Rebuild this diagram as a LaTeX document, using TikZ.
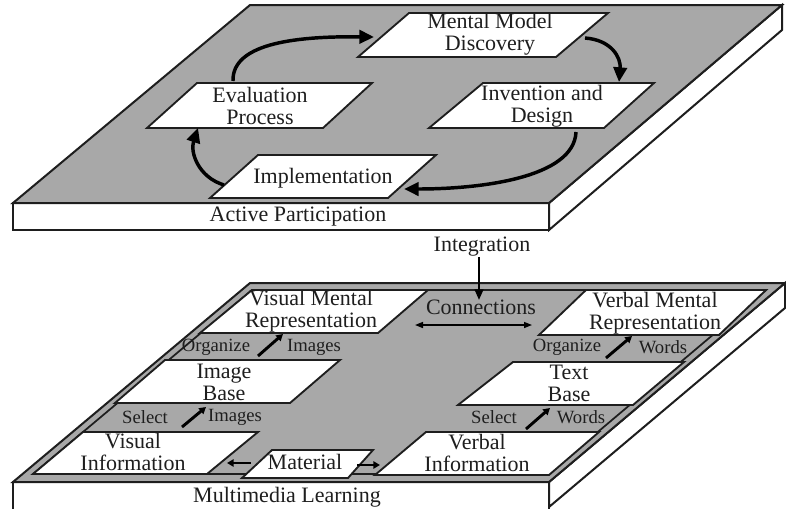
\documentclass[tikz,border=0pt]{standalone}
\usepackage{fontspec}
\setmainfont{Liberation Serif}
\usetikzlibrary{arrows.meta}
\definecolor{slab}{RGB}{168,168,168}
\definecolor{ink}{RGB}{30,30,30}
\newcommand\pgram[6]{% BLx, BRx, TLx, TRx, bottom y, top y
  \draw[pbox] (#1,#5) -- (#2,#5) -- (#4,#6) -- (#3,#6) -- cycle;}
\begin{document}
\begin{tikzpicture}[x=0.75pt,y=-0.75pt,line join=miter,
  face/.style={draw=ink,line width=1.5pt,fill=white},
  topface/.style={draw=ink,line width=1.5pt,fill=slab},
  pbox/.style={draw=ink,line width=1.4pt,fill=white},
  lbl/.style={font=\fontsize{16.5}{16.5}\selectfont,text=ink,align=center,inner sep=0pt},
  small/.style={font=\fontsize{14}{16}\selectfont,text=ink,inner sep=0pt},
  cyc/.style={draw=black,line width=2.6pt,-{Triangle[length=11pt,width=10pt]}},
  tiny/.style={draw=black,line width=2.2pt,-{Triangle[length=5pt,width=5.5pt]}},
  integ/.style={draw=black,line width=1.6pt,-{Triangle[length=8pt,width=6.5pt]}},
  conn/.style={draw=black,line width=1.1pt,{Triangle[length=6pt,width=4.5pt]}-{Triangle[length=6pt,width=4.5pt]}}]
\useasboundingbox (0,0) rectangle (786,508);
\clip (0,0) rectangle (786,508);
% ---------- top slab ----------
\draw[face] (13,203) rectangle (549,230);
\draw[face] (549,203) -- (782,5) -- (782,30) -- (549,230) -- cycle;
\draw[topface] (13,203) -- (549,203) -- (782,5) -- (250,5) -- cycle;
\node[lbl] (ap) at (298,217) {Active Participation};
\pgram{358}{556}{409}{608}{57}{13}
\pgram{429}{604}{483}{654}{128}{83}
\pgram{147}{323}{197}{372}{128}{83}
\pgram{210}{388}{258}{436}{198}{155}
\node[lbl] (mmd) at (490,34) {Mental Model\\Discovery};
\node[lbl] (inv) at (542,106) {Invention and\\Design};
\node[lbl] (eva) at (260,106) {Evaluation\\Process};
\node[lbl] (imp) at (323,178) {Implementation};
\coordinate (a1s) at (233,81);  \coordinate (a1e) at (374,37);
\coordinate (a2s) at (585,38);  \coordinate (a2e) at (619,82);
\coordinate (a3s) at (576,132); \coordinate (a3e) at (404,189);
\coordinate (a4s) at (224,185); \coordinate (a4e) at (198,128);
\draw[cyc] (a1s) .. controls (232,45) and (290,36) .. (a1e);
\draw[cyc] (a2s) .. controls (612,40) and (621,58) .. (a2e);
\draw[cyc] (a3s) .. controls (574,178) and (480,189) .. (a3e);
\draw[cyc] (a4s) .. controls (198,177) and (190,152) .. (a4e);
% ---------- bottom slab ----------
\draw[face] (13,482) rectangle (549,515);
\draw[face] (549,482) -- (785,283) -- (785,308) -- (549,507) -- cycle;
\draw[topface] (13,482) -- (549,482) -- (785,283) -- (250,283) -- cycle;
\draw[draw=ink,line width=1.3pt] (33,474) -- (548,474) -- (766,290) -- (252,290) -- cycle;
\node[lbl] (ml) at (287,497) {Multimedia Learning};
\pgram{200}{378}{252}{428}{333}{290}
\pgram{115}{290}{165}{340}{403}{360}
\pgram{33}{207}{83}{258}{474}{432}
\pgram{242}{348}{272}{373}{478}{450}
\pgram{375}{549}{426}{599}{475}{432}
\pgram{458}{633}{513}{684}{405}{362}
\pgram{539}{719}{586}{766}{335}{290}
\node[lbl] (vmr) at (311,311) {Visual Mental\\Representation};
\node[lbl] (ib)  at (224,382) {Image\\Base};
\node[lbl] (vi)  at (133,452) {Visual\\Information};
\node[lbl] (mat) at (305,462) {Material};
\node[lbl] (vbi) at (477,453) {Verbal\\Information};
\node[lbl] (tb)  at (569,383) {Text\\Base};
\node[lbl] (vbr) at (655,313) {Verbal Mental\\Representation};
\node[lbl] (con) at (481,307) {Connections};
\coordinate (cl) at (415,325); \coordinate (cr) at (532,325);
\draw[conn] (cl) -- (cr);
% ---------- integration ----------
\node[lbl] (int) at (482,247) {Integration};
\coordinate (intend) at (479,300);
\draw[integ] (int.south -| intend) -- (intend);
% labels
\node[small] (org1) at (216,347) {Organize};
\node[small] (img1) at (314,347) {Images};
\node[small] (sel1) at (145,417) {Select};
\node[small] (img2) at (235,417) {Images};
\node[small] (org2) at (567,347) {Organize};
\node[small] (wd1)  at (663,347) {Words};
\node[small] (sel2) at (494,417) {Select};
\node[small] (wd2)  at (581,417) {Words};
\coordinate (o1s) at (258,356); \coordinate (o1e) at (283,334);
\coordinate (s1s) at (182,427); \coordinate (s1e) at (206,407);
\coordinate (o2s) at (606,358); \coordinate (o2e) at (632,336);
\coordinate (s2s) at (526,429); \coordinate (s2e) at (550,408);
\draw[tiny] (o1s) -- (o1e);
\draw[tiny] (s1s) -- (s1e);
\draw[tiny] (o2s) -- (o2e);
\draw[tiny] (s2s) -- (s2e);
\coordinate (m1s) at (251,463); \coordinate (m1e) at (227,463);
\coordinate (m2s) at (357,465); \coordinate (m2e) at (380,465);
\draw[tiny] (m1s) -- (m1e);
\draw[tiny] (m2s) -- (m2e);
\end{tikzpicture}
\end{document}
